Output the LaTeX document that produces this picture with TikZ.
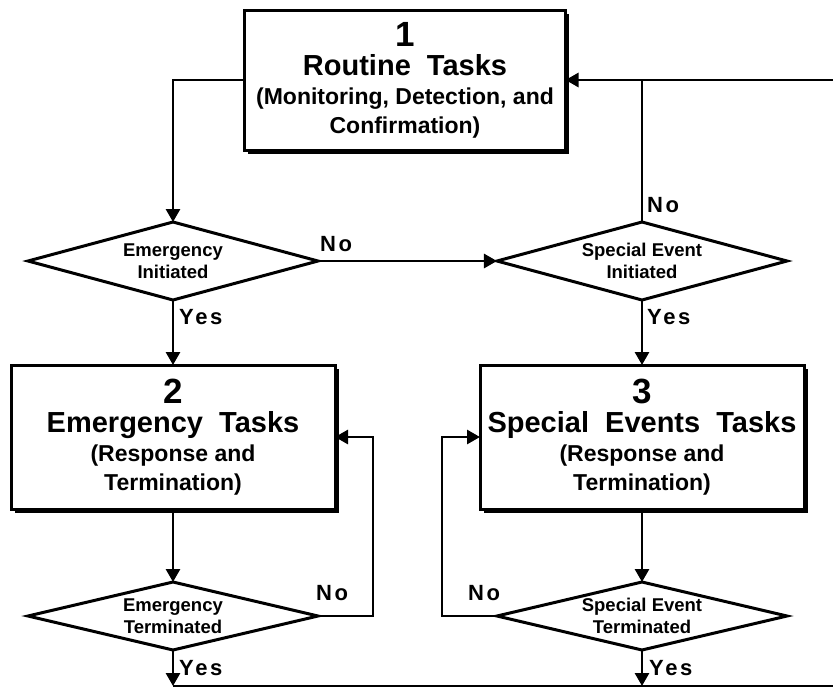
\documentclass[tikz,border=0pt]{standalone}
\usepackage{fontspec}
\setmainfont{Liberation Sans}
\newfontfamily\titlefam{Liberation Sans}[WordSpace=2]
\newfontfamily\answerfam{Liberation Sans}[LetterSpace=12]
\usetikzlibrary{graphs, positioning, shapes.geometric, arrows.meta, shadows}

\newcommand{\tasknum}{\fontsize{35}{35}\selectfont\bfseries}
\newcommand{\tasktitle}{\titlefam\fontsize{29}{30}\selectfont\bfseries}

\begin{document}
\begin{tikzpicture}[x=1pt, y=-1pt, >={Triangle[length=13pt,width=14pt]},
		task/.style={draw, line width=3pt, fill=white, align=center, minimum width=324pt, minimum height=144pt,
			inner sep=0pt, outer sep=0pt, font=\fontsize{23}{29}\selectfont\bfseries,
			drop shadow={shadow xshift=3.5pt, shadow yshift=-3.5pt, fill=black, opacity=1}},
		decision/.style={draw, diamond, aspect=4, line width=3pt, fill=white, align=center, minimum width=290pt,
			minimum height=78pt, inner sep=-6pt, outer sep=0pt, font=\fontsize{18.5}{22}\selectfont\bfseries},
		answer/.style={inner sep=1pt, font=\answerfam\fontsize{22}{22}\selectfont\bfseries},
		flow/.style={line width=2.8pt}]
		\useasboundingbox (0,0) rectangle (833,689);
		
		\node[task, minimum width=321pt, minimum height=140pt] (routine) at (405,80)
			{{\tasknum 1}\\{\tasktitle Routine Tasks}\\(Monitoring, Detection, and\\Confirmation)};
		\node[decision] (eminit) at (173,261) {Emergency\\Initiated};
		\node[decision, right=179pt of eminit] (spinit) {Special Event\\Initiated};
		\node[task, below=65pt of eminit] (emtask) {{\tasknum 2}\\{\tasktitle Emergency Tasks}\\(Response and\\Termination)};
		\node[task, below=65pt of spinit] (sptask) {{\tasknum 3}\\{\tasktitle Special Events Tasks}\\(Response and\\Termination)};
		\node[decision, minimum height=68pt, below=73pt of emtask] (emterm) {Emergency\\Terminated};
		\node[decision, minimum height=68pt, below=73pt of sptask] (spterm) {Special Event\\Terminated};
		
		\node[answer, above right=8pt and 1pt of eminit.east]   (noinit)   {No};
		\node[answer, below right=8pt and 5pt of eminit.south]  (yesinit)  {Yes};
		\node[answer, above right=8pt and 4pt of spinit.north]  (nospec)   {No};
		\node[answer, below right=8pt and 4pt of spinit.south]  (yesspec)  {Yes};
		\node[answer, above=14pt of emterm.east, xshift=14pt]   (noemend)  {No};
		\node[answer, above=14pt of spterm.west, xshift=-13pt]  (nospend)  {No};
		\node[answer, below right=9pt and 5pt of emterm.south]  (yesemend) {Yes};
		\node[answer, below right=9pt and 6pt of spterm.south]  (yesspend) {Yes};
		
		\coordinate (rail) at (173,686);
		\coordinate (railend) at (837,686);
		
		\graph[edges={flow}]{
			(eminit) -> (spinit);
			(eminit) -> (emtask) -> (emterm);
			(spinit) -> (sptask) -> (spterm);
		};
		\draw[flow, ->] (routine.west) -| (eminit.north);
		\draw[flow] (spinit.north) -- (spinit.north |- routine.east);
		\draw[flow, ->] (emterm.east) -- ++(55,0) |- (emtask.east);
		\draw[flow, ->] (spterm.west) -- ++(-55,0) |- (sptask.west);
		\draw[flow, ->] (emterm.south) -- (emterm.south |- rail);
		\draw[flow, ->] (spterm.south) -- (spterm.south |- rail);
		\draw[flow, ->] (rail) -- (railend) |- (routine.east);
	\end{tikzpicture}
\end{document}
